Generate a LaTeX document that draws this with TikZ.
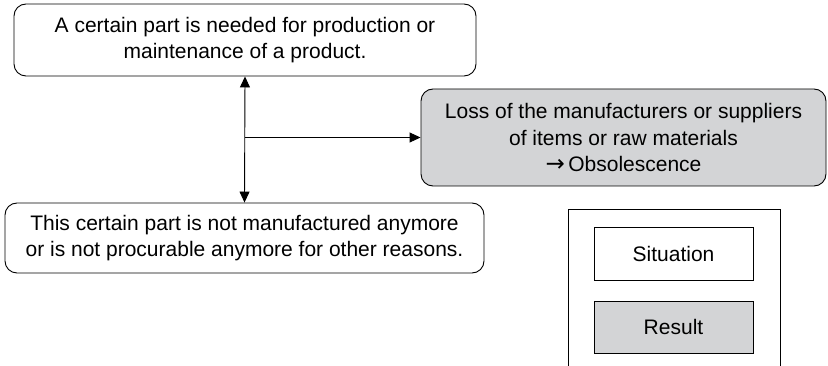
\documentclass[tikz,border=0pt]{standalone}
\usepackage{fontspec}
\setmainfont{Liberation Sans}
\newfontfamily\arrowfont{DejaVu Sans}
\usepackage{xcolor}
\usetikzlibrary{positioning, arrows.meta, calc}

\definecolor{resgray}{RGB}{211,212,214}

\begin{document}
\begin{tikzpicture}[
  x=1pt, y=-1pt,
  font=\fontsize{21}{26.5}\selectfont,
  sit/.style={draw, rounded corners=12pt, align=center, inner sep=0pt, line width=0.9pt},
  res/.style={draw, rounded corners=12pt, fill=resgray, align=center, inner sep=0pt, line width=0.9pt},
  key/.style={draw, align=center, inner sep=0pt, line width=0.9pt, minimum width=159pt},
  arr/.style={{Triangle[length=11pt,width=10pt]}-{Triangle[length=11pt,width=10pt]}, line width=0.9pt},
  arr1/.style={-{Triangle[length=11pt,width=10pt]}, line width=0.9pt}
]
\useasboundingbox (0,0) rectangle (828,366);
\node[sit, minimum width=462pt, minimum height=72pt] (need) at (245,40) {A certain part is needed for production or\\maintenance of a product.};
\node[sit, minimum width=479pt, minimum height=70pt] (gone) at (244.5,238) {This certain part is not manufactured anymore\\or is not procurable anymore for other reasons.};
\node[res, minimum width=405pt, minimum height=97pt] (loss) at (623.5,137.5) {Loss of the manufacturers or suppliers\\of items or raw materials\\{\arrowfont\fontsize{23}{26.5}\selectfont→}\,Obsolescence};
\coordinate (mid) at (245,137.5);
\draw[arr] (need.south) -- (gone.north);
\draw[arr1] (mid) -- (loss.west);
% legend
\draw[line width=0.9pt] (568,370) |- (780,209) -- (780,370);
\node[key, minimum height=53pt] (situation) at (673.5,253.5) {Situation};
\node[key, fill=resgray, minimum height=52pt] (result) at (673.5,327) {Result};
\end{tikzpicture}
\end{document}
